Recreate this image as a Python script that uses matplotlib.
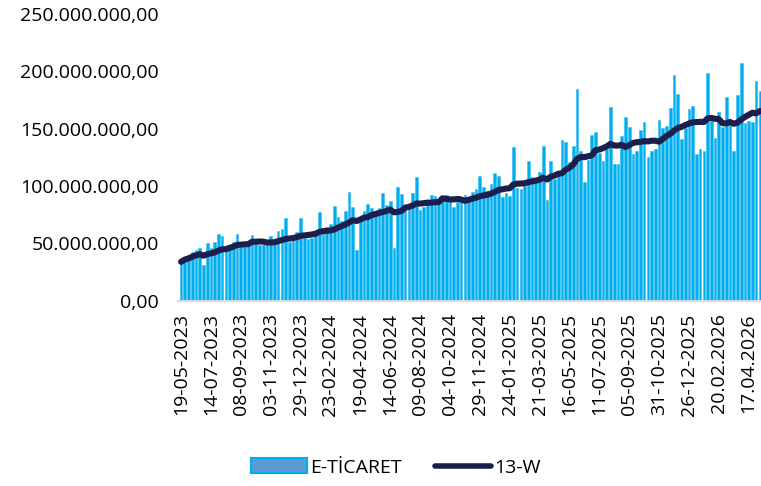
import numpy as np
import pandas as pd
import matplotlib
matplotlib.use('Agg')
from matplotlib import pyplot as plt
from matplotlib.patches import Patch
from matplotlib.lines import Line2D
from matplotlib.ticker import FuncFormatter

# weekly e-commerce volume, millions, first week 19-05-2023
sales_m = [
    34, 38, 39, 43, 44, 46.5, 31, 50, 46.5, 51, 58.7, 56.7, 47, 49, 51, 58.7,
    47, 47, 49.6, 57, 51, 49, 49, 49, 56.7, 50,
    61, 63, 72, 51.5, 53, 60, 72, 55, 54, 55, 57, 77.7, 58.7, 64.6, 67, 83,
    73, 70, 78, 95, 82, 44, 72, 78, 84, 81,
    75.6, 81, 93.6, 83.5, 87.3, 46.5, 98.9, 93.1, 82, 80, 94, 107.6, 79, 81.4,
    85.8, 92.5, 91, 86.7, 90, 92.2, 87.3, 82, 85.8, 87.3, 92.2, 90,
    95.1, 97.1, 109, 99.2, 96, 101.8, 111.7, 108.8, 90.7, 93.6, 91.6, 134.4,
    98.3, 97.1, 100.3, 121.6, 107.6, 104.7, 112.6, 135.3, 87.9, 122.2, 106.2,
    112, 140.2, 138.1,
    120.7, 135.3, 184.7, 130.3, 103.3, 122.7, 144.9, 147.5, 128.6, 122.2,
    132.3, 168.7, 119.3, 119.3, 144, 160, 151.8, 128, 130.9, 148.9, 156.2,
    125.1, 130.3, 132.3, 157.7, 150.7, 152.7,
    168.1, 197.2, 180.3, 141.1, 150.7, 167.2, 170.2, 128, 132.3, 130.9, 198.4,
    156.5, 142, 164.3, 151.8, 177.4, 157.7, 130.3, 179.5, 207.4, 154.7, 156.5,
    155.6, 191.4, 182.6,
]

tick_labels = [
    '19-05-2023', '14-07-2023', '08-09-2023', '03-11-2023', '29-12-2023',
    '23-02-2024', '19-04-2024', '14-06-2024', '09-08-2024', '04-10-2024',
    '29-11-2024', '24-01-2025', '21-03-2025', '16-05-2025', '11-07-2025',
    '05-09-2025', '31-10-2025', '26-12-2025', '20.02.2026', '17.04.2026',
]
tick_step = 8  # weeks between labels


def tr_format(v, pos):
    s = '{:,.2f}'.format(v)
    return s.replace(',', 'X').replace('.', ',').replace('X', '.')


def main():
    plt.rcParams['font.family'] = ['Open Sans', 'DejaVu Sans']

    sales = pd.Series(sales_m) * 1e6
    rolling = sales.rolling(13, min_periods=1).mean()
    x = np.arange(len(sales))

    fig = plt.figure(figsize=(7.61, 4.86), dpi=100)
    ax = fig.add_axes([0.234, 0.381, 0.766, 0.59])

    ax.bar(x, sales, width=0.72, color='#00AEEF', edgecolor='#33BDF2',
           linewidth=0.4)
    ax.plot(x, rolling, color='#1C1F4C', linewidth=4.4,
            solid_capstyle='round')

    ax.set_ylim(0, 250e6)
    ax.set_xlim(-0.8, len(sales) - 0.7)
    ax.set_yticks(np.arange(0, 250e6 + 1, 50e6))
    ax.yaxis.set_major_formatter(FuncFormatter(tr_format))

    ax.set_xticks(np.arange(0, tick_step * len(tick_labels), tick_step))
    ax.set_xticklabels(tick_labels, rotation=90)

    ax.tick_params(axis='both', length=0, labelsize=14, colors='black')
    ax.tick_params(axis='y', pad=14)
    ax.tick_params(axis='x', pad=9)

    for side in ['top', 'right', 'left']:
        ax.spines[side].set_visible(False)
    ax.spines['bottom'].set_color('#D9D9D9')
    ax.spines['bottom'].set_linewidth(1.5)

    handles = [
        Patch(facecolor='#5B9BD5', edgecolor='#00AEEF', linewidth=1.5),
        Line2D([], [], color='#1C1F4C', linewidth=4.0, solid_capstyle='round'),
    ]
    fig.legend(handles, ['E-TİCARET', '13-W'], loc='center',
               bbox_to_anchor=(0.52, 0.038), ncol=2, frameon=False,
               fontsize=14, handlelength=2.9, handleheight=0.8,
               handletextpad=0.15, columnspacing=1.7)

    fig.savefig('out.png', dpi=100)


if __name__ == '__main__':
    main()
